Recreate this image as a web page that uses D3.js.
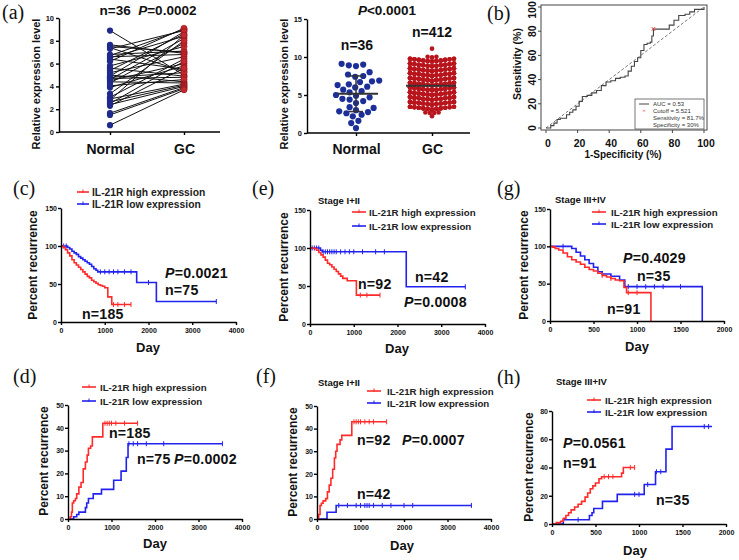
<!DOCTYPE html>
<html><head><meta charset="utf-8">
<script src="https://cdn.jsdelivr.net/npm/d3@7"></script>
<style>body{margin:0;background:#fff} svg{display:block}</style>
</head><body>
<svg id="chart" width="739" height="560"></svg>
<script>
// ---------------- DATA ----------------
// (a) paired expression, left panel
const categories = ["Normal", "GC"];
const normalPaired = [8.9,7.65,7.5,7.4,7.3,6.8,6.7,6.6,6.5,6.4,6.2,5.8,5.6,5.4,5.2,5.0,4.9,4.8,4.7,4.6,4.5,4.4,4.3,4.05,3.9,3.35,3.05,2.9,2.8,2.65,2.5,2.4,2.3,1.65,1.5,0.6];
const gcPaired     = [5.0,6.9,7.0,5.3,8.9,7.1,9.0,6.8,8.4,5.5,9.1,7.5,4.9,8.6,6.6,4.4,8.8,5.2,4.8,8.2,6.0,4.3,7.8,4.6,5.8,8.0,6.4,4.2,8.5,4.1,6.2,4.0,5.6,3.9,3.8,3.7];
const aLeftTicks = [0,2,4,6,8,10];
// (a) right panel
const normalScatter = [9.1,9.0,8.9,8.8,8.0,7.7,7.5,7.4,6.9,6.8,6.7,6.4,6.1,6.0,5.7,5.5,5.35,5.0,4.9,4.7,4.5,4.4,4.2,3.95,3.4,3.3,2.85,2.75,2.6,2.4,2.2,1.6,1.3,0.65,3.0,6.3];
const gcRowValues = [2.2,2.6,3.1,3.73,4.36,4.99,5.62,6.25,6.88,7.51,8.14,8.77,9.4,9.95,11.1];
const gcRowCounts = [1,4,30,36,38,40,40,40,40,38,36,34,31,3,1];
const aRightTicks = [0,5,10,15];
// (b) ROC
const rocFpr = [0,3,5,7,9,11,13,15,17,19,21,23,26,29,32,35,38,41,44,47,50,52,54,56,58,60,62,64,66,67,68,72,76,78,81,84,88,91,94,100];
const rocTpr = [0,2,4,7,8,8,11,13,15,18,22,26,27,29,31,35,38,39,41,42,43,47,51,55,58,64,69,70,71,76,81.7,81.7,81.7,85,89,93,94,96,98,100];
const rocCutoff = [68, 81.7];
const rocTicks = [0,20,40,60,80,100];
const rocLegend = ["AUC = 0.53","Cutoff = 5.521","Sensitivity = 81.7%","Specificity = 30%"];
// Kaplan-Meier style curves [day, percent]
const legendLabels = ["IL-21R high expression","IL-21R low expression"];
const cHigh = [[0,100],[50,98],[100,95],[150,91],[200,87],[250,82],[300,78],[350,75],[400,72],[450,69],[500,66],[550,63],[600,60],[650,58],[700,55],[750,53],[800,51],[850,49],[900,48],[950,47],[1000,45],[1070,33],[1160,23],[1600,23]];
const cLow  = [[0,100],[150,98],[200,96],[250,93],[300,91],[350,89],[400,86],[450,84],[500,82],[550,80],[600,78],[650,76],[700,73],[750,70],[800,68],[840,66],[1730,52],[2180,27],[3550,27]];
const cHighCens = [1200,1300,1450,1600];
const cLowCens = [60,120,900,1000,1100,1200,1300,1450,1600,2000,3550];
const eHigh = [[0,100],[100,99],[150,97],[200,94],[250,91],[300,88],[350,84],[400,80],[450,78],[500,75],[550,72],[600,69],[650,66],[700,63],[750,60],[850,57],[1060,38],[1600,38]];
const eLow  = [[0,100],[200,100],[240,97],[280,95],[2200,49],[3550,49]];
const eHighCens = [1150,1300,1600];
const eLowCens = [50,100,150,200,300,350,400,450,500,550,600,700,800,900,1000,1200,1500,1700,3550];
const gHigh = [[0,100],[30,99],[60,97],[100,95],[150,91],[200,86],[250,82],[300,79],[350,76],[400,72],[450,69],[500,67],[550,64],[600,61],[650,59],[700,57],[750,55],[800,54],[850,45],[880,38],[1160,0]];
const gLow  = [[0,100],[200,100],[250,97],[300,92],[350,87],[400,82],[450,77],[500,72],[550,66],[600,63],[700,60],[800,55],[860,46],[1750,0]];
const gHighCens = [600,700,900,1000];
const gLowCens = [150,900,1000,1100,1200,1300,1500];
const dHigh = [[0,0],[50,1],[80,3],[100,7],[130,8],[170,9],[200,11],[250,14],[300,16],[350,22],[400,25],[440,28],[470,31],[520,32],[560,36],[800,42],[1600,42]];
const dLow  = [[0,0],[130,1],[200,2],[250,3],[400,5],[430,7],[470,9],[580,11],[770,13],[1050,17],[1220,21],[1340,27],[1380,33],[3550,33]];
const dHighCens = [850,900,950,1000,1100,1300,1600];
const dLowCens = [1400,1500,1600,1800,2200,3550];
const fHigh = [[0,0],[40,2],[70,6],[100,7],[140,8],[200,9],[240,12],[280,15],[320,18],[360,22],[400,27],[430,30],[460,33],[530,35],[570,37],[800,43],[1600,43]];
const fLow  = [[0,0],[230,3],[440,6],[3550,6]];
const fHighCens = [850,900,950,1000,1100,1200,1300,1600];
const fLowCens = [500,700,900,1000,1100,1150,1200,1300,1500,1700,2000,2200,3550];
const hHigh = [[0,0],[50,1],[100,2],[130,4],[160,6],[190,8],[220,10],[260,12],[300,14],[340,16],[380,19],[410,22],[440,25],[470,27],[500,29],[540,32],[570,33.5],[800,36],[820,40],[950,40]];
const hLow  = [[0,0],[130,3],[430,6],[460,8],[480,11],[580,16],[750,21],[1060,28],[1190,37],[1310,53],[1380,69],[1840,69]];
const hHighCens = [600,650,700,900,950];
const hLowCens = [300,950,1000,1100,1200,1250,1750,1800];
const ticks4000 = [0,1000,2000,3000,4000];
const ticks2000 = [0,500,1000,1500,2000];

// ---------------- DRAW ----------------
const svg = d3.select("#chart");
const F = '"Liberation Sans", Arial, sans-serif';
const SERIF = '"Liberation Serif", "Times New Roman", serif';
const RED = "#ff2b2b", BLUE = "#2222ee";
const fmt = d3.format("d");

function styleAxis(g, fs) {
  g.selectAll("path,line").attr("stroke", "#000").attr("stroke-width", 1.4);
  g.selectAll("text").attr("font-size", fs).attr("font-weight", "bold")
    .attr("fill", "#111").attr("font-family", F);
}
function rich(x, y, str, size, anchor, ls) {
  const t = svg.append("text").attr("x", x).attr("y", y).attr("font-size", size)
    .attr("font-weight", "bold").attr("font-family", F).attr("fill", "#111")
    .attr("text-anchor", anchor || "start").style("white-space", "pre");
  if (ls) t.attr("letter-spacing", ls);
  const i = str.indexOf("P");
  if (i < 0) { t.text(str); return t; }
  if (i > 0) t.append("tspan").text(str.slice(0, i));
  t.append("tspan").attr("font-style", "italic").text("P");
  t.append("tspan").text(str.slice(i + 1));
  return t;
}
function plain(x, y, str, size, opts) {
  opts = opts || {};
  const t = svg.append("text").attr("x", x).attr("y", y).attr("font-size", size)
    .attr("font-family", opts.family || F).attr("font-weight", opts.weight || "bold")
    .attr("fill", opts.fill || "#111").attr("text-anchor", opts.anchor || "start").text(str);
  if (opts.rotate) t.attr("transform", `rotate(-90,${x},${y})`).attr("dominant-baseline", "central");
  return t;
}

// ---- (a) left ----
plain(2, 19, "(a)", 20, {family: SERIF, weight: "normal"});
{
  const y = d3.scaleLinear().domain([0, 10]).range([132, 18]);
  const x = d3.scalePoint().domain(categories).range([110, 184]);
  svg.append("line").attr("x1", 59).attr("x2", 220).attr("y1", 132).attr("y2", 132).attr("stroke", "#000").attr("stroke-width", 1.4);
  const gx = svg.append("g").attr("transform", "translate(0,132)").call(d3.axisBottom(x).tickSize(3).tickSizeOuter(0).tickPadding(9));
  gx.select(".domain").remove();
  styleAxis(gx, 14);
  const gy = svg.append("g").attr("transform", "translate(59,0)").call(d3.axisLeft(y).tickValues(aLeftTicks).tickSize(3).tickSizeOuter(0).tickPadding(2));
  styleAxis(gy, 7.5);
  normalPaired.forEach((v, i) => {
    svg.append("line").attr("x1", x("Normal")).attr("y1", y(v)).attr("x2", x("GC")).attr("y2", y(gcPaired[i]))
      .attr("stroke", "#111").attr("stroke-width", 1);
  });
  normalPaired.forEach(v => svg.append("circle").attr("cx", x("Normal")).attr("cy", y(v)).attr("r", 3.1).attr("fill", "#1f2a8c"));
  gcPaired.forEach(v => svg.append("circle").attr("cx", x("GC")).attr("cy", y(v)).attr("r", 3.1).attr("fill", "#c8262e").attr("stroke", "#7a1016").attr("stroke-width", 0.5));
  plain(36, 84, "Relative expression level", 11, {rotate: true, anchor: "middle"});
  rich(148, 15, "n=36  P=0.0002", 13.5, "middle");
}

// ---- (a) right ----
{
  const y = d3.scaleLinear().domain([0, 15]).range([133, 19]);
  const x = d3.scalePoint().domain(categories).range([356, 432]);
  // GC rows: 11 slots across, duplicated points overlap, chevron (outer slightly higher)
  gcRowValues.forEach((v, j) => {
    const n = gcRowCounts[j];
    const slots = Math.min(n, 11);
    for (let i = 0; i < n; i++) {
      const k = (i % slots) - (slots - 1) / 2;
      svg.append("circle").attr("cx", x("GC") + k * 4.4).attr("cy", y(v) - Math.abs(k) * 0.55)
        .attr("r", 2.3).attr("fill", "#b8141c");
    }
  });
  // Normal beeswarm
  const r = 3.1, placed = [];
  normalScatter.slice().sort((a, b) => a - b).forEach(v => {
    const cy = y(v);
    let off = 0;
    for (let k = 0; k < 200; k++) {
      const cand = (k % 2 === 0 ? 1 : -1) * Math.ceil(k / 2) * 0.8;
      const ok = placed.every(p => Math.hypot(p[0] - cand, p[1] - cy) >= 2 * r + 0.6);
      if (ok) { off = cand; break; }
    }
    placed.push([off, cy]);
  });
  placed.forEach(p => svg.append("circle").attr("cx", x("Normal") + p[0]).attr("cy", p[1]).attr("r", r).attr("fill", "#1c2f98"));
  const m1 = d3.mean(normalScatter), s1 = d3.deviation(normalScatter);
  const m2 = d3.sum(gcRowValues.map((v, j) => v * gcRowCounts[j])) / d3.sum(gcRowCounts);
  const cx = x("Normal");
  svg.append("line").attr("x1", cx).attr("x2", cx).attr("y1", y(m1 - s1)).attr("y2", y(m1 + s1)).attr("stroke", "#333").attr("stroke-width", 1.5);
  [m1 - s1, m1 + s1].forEach(v => svg.append("line").attr("x1", cx - 7).attr("x2", cx + 7).attr("y1", y(v)).attr("y2", y(v)).attr("stroke", "#333").attr("stroke-width", 1.5));
  svg.append("line").attr("x1", cx - 18).attr("x2", cx + 22).attr("y1", y(m1)).attr("y2", y(m1)).attr("stroke", "#333").attr("stroke-width", 2);
  svg.append("line").attr("x1", x("GC") - 26).attr("x2", x("GC") + 24).attr("y1", y(m2)).attr("y2", y(m2)).attr("stroke", "#333").attr("stroke-width", 2);
  svg.append("line").attr("x1", 307).attr("x2", 470).attr("y1", 133).attr("y2", 133).attr("stroke", "#000").attr("stroke-width", 1.4);
  const gx = svg.append("g").attr("transform", "translate(0,133)").call(d3.axisBottom(x).tickSize(3).tickSizeOuter(0).tickPadding(8));
  gx.select(".domain").remove();
  styleAxis(gx, 14);
  const gy = svg.append("g").attr("transform", "translate(307,0)").call(d3.axisLeft(y).tickValues(aRightTicks).tickSize(3).tickSizeOuter(0).tickPadding(2));
  styleAxis(gy, 7.5);
  plain(284, 84, "Relative expression level", 11, {rotate: true, anchor: "middle"});
  rich(387, 15, "P<0.0001", 13.5, "middle");
  plain(357, 50, "n=36", 14, {anchor: "middle"});
  plain(432, 37, "n=412", 14, {anchor: "middle"});
}

// ---- (b) ROC ----
plain(487, 20, "(b)", 20, {family: SERIF, weight: "normal"});
{
  const x = d3.scaleLinear().domain([0, 100]).range([546, 704]);
  const y = d3.scaleLinear().domain([0, 100]).range([128, 7]);
  svg.append("rect").attr("x", 541).attr("y", 5).attr("width", 166).attr("height", 125).attr("fill", "none").attr("stroke", "#444").attr("stroke-width", 1);
  svg.append("line").attr("x1", x(0)).attr("y1", y(0)).attr("x2", x(100)).attr("y2", y(100)).attr("stroke", "#777").attr("stroke-dasharray", "3,2").attr("stroke-width", 1);
  const pts = rocFpr.map((f, i) => [f, rocTpr[i]]);
  svg.append("path").attr("d", d3.line().x(d => x(d[0])).y(d => y(d[1])).curve(d3.curveStepAfter)(pts))
    .attr("fill", "none").attr("stroke", "#444").attr("stroke-width", 1.1);
  svg.append("text").attr("x", x(rocCutoff[0])).attr("y", y(rocCutoff[1])).attr("text-anchor", "middle").attr("dominant-baseline", "central")
    .attr("font-size", 9).attr("fill", "#e03030").attr("font-family", F).text("×");
  rocTicks.forEach(t => {
    svg.append("line").attr("x1", x(t)).attr("x2", x(t)).attr("y1", 130).attr("y2", 133).attr("stroke", "#444");
    plain(x(t) + 2, 147, String(t), 10.5, {anchor: "middle"});
    svg.append("line").attr("x1", 538).attr("x2", 541).attr("y1", y(t)).attr("y2", y(t)).attr("stroke", "#444");
    plain(532, Math.max(y(t), 10), String(t), 10.5, {anchor: "middle", rotate: true});
  });
  plain(517, 64, "Sensitivity (%)", 10.5, {anchor: "middle", rotate: true});
  plain(623, 158, "1-Specificity (%)", 10, {anchor: "middle"});
  svg.append("rect").attr("x", 635).attr("y", 99).attr("width", 69).attr("height", 30).attr("fill", "#fff").attr("stroke", "#555").attr("stroke-width", 0.8);
  svg.append("line").attr("x1", 639).attr("x2", 649).attr("y1", 104).attr("y2", 104).attr("stroke", "#444");
  svg.append("text").attr("x", 644).attr("y", 111).attr("text-anchor", "middle").attr("dominant-baseline", "central").attr("font-size", 7).attr("fill", "#e03030").text("×");
  rocLegend.forEach((s, i) => {
    svg.append("text").attr("x", 653).attr("y", 104 + i * 7).attr("dominant-baseline", "central").attr("font-size", 6)
      .attr("font-family", F).attr("fill", "#333").text(s);
  });
}

// ---- Kaplan-Meier panels ----
function stepVal(pts, t) {
  let v = pts[0][1];
  for (const p of pts) { if (p[0] <= t) v = p[1]; else break; }
  return v;
}
function drawKM(c) {
  const x = d3.scaleLinear().domain([0, c.xmax]).range([c.x0, c.x1]);
  const y = d3.scaleLinear().domain([0, c.ymax]).range([c.y0, c.y1]);
  const line = d3.line().x(d => x(d[0])).y(d => y(d[1])).curve(d3.curveStepAfter);
  [[c.low, c.lowC, BLUE], [c.high, c.highC, RED]].forEach(([pts, cens, col]) => {
    svg.append("path").attr("d", line(pts)).attr("fill", "none").attr("stroke", col).attr("stroke-width", 1.6);
    cens.forEach(t => {
      const v = stepVal(pts, t);
      svg.append("line").attr("x1", x(t)).attr("x2", x(t)).attr("y1", y(v) - 2.5).attr("y2", y(v) + 2.5).attr("stroke", col).attr("stroke-width", 1);
    });
  });
  const gx = svg.append("g").attr("transform", `translate(0,${c.y0})`).call(d3.axisBottom(x).tickValues(c.xticks).tickFormat(fmt).tickSize(3).tickSizeOuter(0).tickPadding(3));
  styleAxis(gx, 7);
  const gy = svg.append("g").attr("transform", `translate(${c.x0},0)`).call(d3.axisLeft(y).tickValues(c.yticks).tickFormat(fmt).tickSize(3).tickSizeOuter(0).tickPadding(1));
  styleAxis(gy, 7);
  plain(c.ylab[0], c.ylab[1], "Percent recurrence", 12, {anchor: "middle", rotate: true});
  plain(c.day[0], c.day[1], "Day", 13, {anchor: "middle"});
  plain(c.label[0], c.label[1], c.label[2], 20, {family: SERIF, weight: "normal"});
  if (c.stage) plain(c.stage[1], c.stage[2], c.stage[0], 9.5);
  const L = c.legend;
  [[RED, L.yr, legendLabels[0]], [BLUE, L.yb, legendLabels[1]]].forEach(([col, yy, s]) => {
    svg.append("line").attr("x1", L.x1).attr("x2", L.x2).attr("y1", yy).attr("y2", yy).attr("stroke", col).attr("stroke-width", 1.6);
    const mx = (L.x1 + L.x2) / 2;
    svg.append("line").attr("x1", mx).attr("x2", mx).attr("y1", yy - 2.5).attr("y2", yy + 1).attr("stroke", col).attr("stroke-width", 1);
    svg.append("text").attr("x", L.tx).attr("y", yy).attr("dominant-baseline", "central").attr("font-size", L.fs)
      .attr("font-weight", "bold").attr("font-family", F).attr("fill", "#222").text(s);
  });
  c.notes.forEach(n => rich(n[1], n[2] + 5, n[0], 14.2, "start", 0.2));
}

const kmPanels = [
  {x0: 61, x1: 236, y0: 322, y1: 208, xmax: 4000, ymax: 150, xticks: ticks4000, yticks: [0,50,100,150],
   high: cHigh, low: cLow, highC: cHighCens, lowC: cLowCens, ylab: [33, 265], day: [148, 352], label: [13, 195, "(c)"], stage: null,
   legend: {x1: 77, x2: 89, tx: 92, yr: 192, yb: 204, fs: 10.3},
   notes: [["P=0.0021", 165, 273], ["n=75", 165, 290], ["n=185", 82, 314]]},
  {x0: 310, x1: 485, y0: 324, y1: 210, xmax: 4000, ymax: 150, xticks: ticks4000, yticks: [0,50,100,150],
   high: eHigh, low: eLow, highC: eHighCens, lowC: eLowCens, ylab: [284, 267], day: [397, 353], label: [252, 195, "(e)"], stage: ["Stage I+II", 318, 204],
   legend: {x1: 352, x2: 366, tx: 369, yr: 212, yb: 226, fs: 9.7},
   notes: [["n=92", 358, 284], ["n=42", 415, 277], ["P=0.0008", 404, 302]]},
  {x0: 550, x1: 724, y0: 321, y1: 209, xmax: 2000, ymax: 150, xticks: ticks2000, yticks: [0,50,100,150],
   high: gHigh, low: gLow, highC: gHighCens, lowC: gLowCens, ylab: [524, 265], day: [637, 351], label: [497, 195, "(g)"], stage: ["Stage III+IV", 555, 203],
   legend: {x1: 592, x2: 606, tx: 611, yr: 212, yb: 224, fs: 9.7},
   notes: [["P=0.4029", 623, 258], ["n=35", 637, 276], ["n=91", 607, 309]]},
  {x0: 68, x1: 242, y0: 519, y1: 405, xmax: 4000, ymax: 50, xticks: ticks4000, yticks: [0,10,20,30,40,50],
   high: dHigh, low: dLow, highC: dHighCens, lowC: dLowCens, ylab: [44, 461], day: [155, 548], label: [13, 383, "(d)"], stage: null,
   legend: {x1: 82, x2: 96, tx: 100, yr: 387, yb: 401, fs: 9.7},
   notes: [["n=185", 109, 433], ["n=75", 137, 459], ["P=0.0002", 174, 459]]},
  {x0: 317, x1: 491, y0: 519, y1: 406, xmax: 4000, ymax: 50, xticks: ticks4000, yticks: [0,10,20,30,40,50],
   high: fHigh, low: fLow, highC: fHighCens, lowC: fLowCens, ylab: [293, 462], day: [402, 550], label: [256, 383, "(f)"], stage: ["Stage I+II", 318, 386],
   legend: {x1: 367, x2: 381, tx: 387, yr: 391, yb: 403, fs: 9.7},
   notes: [["n=92", 357, 440], ["P=0.0007", 402, 440], ["n=42", 357, 494]]},
  {x0: 552, x1: 726, y0: 524, y1: 411, xmax: 2000, ymax: 80, xticks: ticks2000, yticks: [0,20,40,60,80],
   high: hHigh, low: hLow, highC: hHighCens, lowC: hLowCens, ylab: [529, 467], day: [635, 555], label: [497, 384, "(h)"], stage: ["Stage III+IV", 556, 385],
   legend: {x1: 587, x2: 601, tx: 605, yr: 400, yb: 412, fs: 9.7},
   notes: [["P=0.0561", 563, 443], ["n=91", 563, 463], ["n=35", 656, 500]]}
];
kmPanels.forEach(drawKM);
</script>
</body></html>
